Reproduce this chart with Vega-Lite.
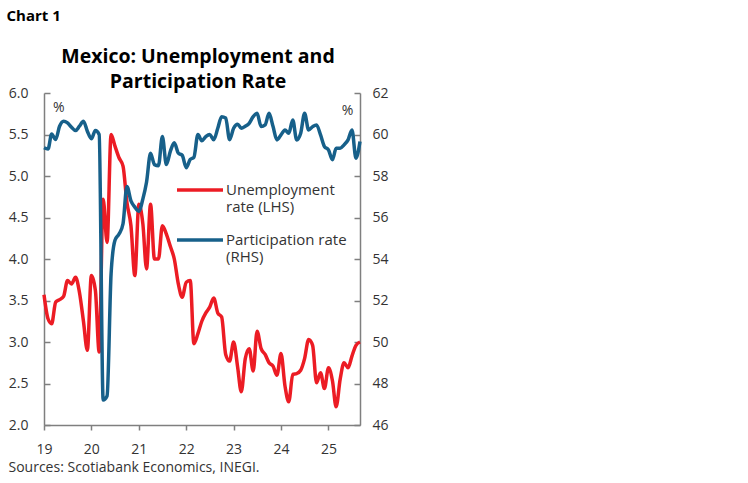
{
  "$schema": "https://vega.github.io/schema/vega-lite/v6.json",
  "width": 316,
  "height": 332,
  "autosize": {"type": "none"},
  "padding": {"left": 44, "top": 93, "right": 388, "bottom": 58},
  "background": "white",
  "config": {
    "view": {"stroke": null},
    "font": "Open Sans",
    "axis": {"grid": false, "domainColor": "#7f7f7f", "domainWidth": 1.5, "tickColor": "#7f7f7f", "tickWidth": 1.5, "labelColor": "#333333", "labelFont": "Open Sans", "labelFontSize": 14, "titleFont": "Open Sans"}
  },
  "title": {"text": ["Mexico: Unemployment and", "Participation Rate"], "anchor": "middle", "frame": "group", "fontSize": 19.5, "fontWeight": "bold", "font": "Open Sans", "color": "#000000", "lineHeight": 25, "offset": 6, "dx": -4, "dy": 90},
  "datasets": {
    "series": [
      {"d": "2019-01-01", "u": 3.57, "p": 59.36},
      {"d": "2019-02-01", "u": 3.28, "p": 59.30},
      {"d": "2019-03-01", "u": 3.22, "p": 60.03},
      {"d": "2019-04-01", "u": 3.48, "p": 59.76},
      {"d": "2019-05-01", "u": 3.51, "p": 60.40},
      {"d": "2019-06-01", "u": 3.55, "p": 60.64},
      {"d": "2019-07-01", "u": 3.74, "p": 60.56},
      {"d": "2019-08-01", "u": 3.70, "p": 60.35},
      {"d": "2019-09-01", "u": 3.78, "p": 60.19},
      {"d": "2019-10-01", "u": 3.60, "p": 60.40},
      {"d": "2019-11-01", "u": 3.25, "p": 60.64},
      {"d": "2019-12-01", "u": 2.90, "p": 60.16},
      {"d": "2020-01-01", "u": 3.80, "p": 59.80},
      {"d": "2020-02-01", "u": 3.62, "p": 60.19},
      {"d": "2020-03-01", "u": 2.88, "p": 60.00},
      {"d": "2020-04-01", "u": 4.72, "p": 47.20},
      {"d": "2020-05-01", "u": 4.20, "p": 47.40},
      {"d": "2020-06-01", "u": 5.50, "p": 53.30},
      {"d": "2020-07-01", "u": 5.36, "p": 54.90},
      {"d": "2020-08-01", "u": 5.22, "p": 55.20},
      {"d": "2020-09-01", "u": 5.12, "p": 55.70},
      {"d": "2020-10-01", "u": 4.68, "p": 57.50},
      {"d": "2020-11-01", "u": 4.40, "p": 56.80},
      {"d": "2020-12-01", "u": 3.80, "p": 56.50},
      {"d": "2021-01-01", "u": 4.66, "p": 56.30},
      {"d": "2021-02-01", "u": 4.42, "p": 56.90},
      {"d": "2021-03-01", "u": 3.88, "p": 57.70},
      {"d": "2021-04-01", "u": 4.66, "p": 59.10},
      {"d": "2021-05-01", "u": 4.00, "p": 58.55},
      {"d": "2021-06-01", "u": 4.00, "p": 58.50},
      {"d": "2021-07-01", "u": 4.40, "p": 59.90},
      {"d": "2021-08-01", "u": 4.30, "p": 58.55},
      {"d": "2021-09-01", "u": 4.15, "p": 59.20},
      {"d": "2021-10-01", "u": 4.00, "p": 59.60},
      {"d": "2021-11-01", "u": 3.70, "p": 59.10},
      {"d": "2021-12-01", "u": 3.54, "p": 59.00},
      {"d": "2022-01-01", "u": 3.72, "p": 58.40},
      {"d": "2022-02-01", "u": 3.74, "p": 58.80},
      {"d": "2022-03-01", "u": 2.98, "p": 58.90},
      {"d": "2022-04-01", "u": 3.10, "p": 60.00},
      {"d": "2022-05-01", "u": 3.25, "p": 59.70},
      {"d": "2022-06-01", "u": 3.35, "p": 59.90},
      {"d": "2022-07-01", "u": 3.42, "p": 60.00},
      {"d": "2022-08-01", "u": 3.53, "p": 59.75},
      {"d": "2022-09-01", "u": 3.35, "p": 60.30},
      {"d": "2022-10-01", "u": 3.30, "p": 60.86},
      {"d": "2022-11-01", "u": 2.85, "p": 60.80},
      {"d": "2022-12-01", "u": 2.77, "p": 59.75},
      {"d": "2023-01-01", "u": 3.00, "p": 60.30},
      {"d": "2023-02-01", "u": 2.70, "p": 60.50},
      {"d": "2023-03-01", "u": 2.40, "p": 60.30},
      {"d": "2023-04-01", "u": 2.80, "p": 60.40},
      {"d": "2023-05-01", "u": 2.92, "p": 60.54},
      {"d": "2023-06-01", "u": 2.65, "p": 60.86},
      {"d": "2023-07-01", "u": 3.13, "p": 61.02},
      {"d": "2023-08-01", "u": 2.92, "p": 60.38},
      {"d": "2023-09-01", "u": 2.85, "p": 60.46},
      {"d": "2023-10-01", "u": 2.75, "p": 61.02},
      {"d": "2023-11-01", "u": 2.71, "p": 60.38},
      {"d": "2023-12-01", "u": 2.60, "p": 59.74},
      {"d": "2024-01-01", "u": 2.86, "p": 59.98},
      {"d": "2024-02-01", "u": 2.47, "p": 60.22},
      {"d": "2024-03-01", "u": 2.28, "p": 60.06},
      {"d": "2024-04-01", "u": 2.61, "p": 60.70},
      {"d": "2024-05-01", "u": 2.62, "p": 59.74},
      {"d": "2024-06-01", "u": 2.66, "p": 60.06},
      {"d": "2024-07-01", "u": 2.80, "p": 61.02},
      {"d": "2024-08-01", "u": 3.03, "p": 60.22},
      {"d": "2024-09-01", "u": 2.96, "p": 60.38},
      {"d": "2024-10-01", "u": 2.51, "p": 60.46},
      {"d": "2024-11-01", "u": 2.63, "p": 59.98},
      {"d": "2024-12-01", "u": 2.44, "p": 59.42},
      {"d": "2025-01-01", "u": 2.69, "p": 59.26},
      {"d": "2025-02-01", "u": 2.53, "p": 58.78},
      {"d": "2025-03-01", "u": 2.22, "p": 59.34},
      {"d": "2025-04-01", "u": 2.55, "p": 59.34},
      {"d": "2025-05-01", "u": 2.75, "p": 59.50},
      {"d": "2025-06-01", "u": 2.69, "p": 59.74},
      {"d": "2025-07-01", "u": 2.83, "p": 60.22},
      {"d": "2025-08-01", "u": 2.96, "p": 58.86},
      {"d": "2025-09-01", "u": 3.00, "p": 59.66}
    ],
    "notes": [{"d": "2019-04-25", "u": 5.82, "t": "%"}]
  },
  "layer": [
    {
      "layer": [
        {
          "data": {"name": "series"},
          "mark": {"type": "line", "interpolate": "monotone", "strokeWidth": 3.5},
          "encoding": {
            "x": {
              "field": "d", "type": "temporal",
              "scale": {"type": "utc", "domain": [{"year": 2019, "month": 1, "date": 1, "utc": true}, {"year": 2025, "month": 9, "date": 1, "utc": true}]},
              "axis": {
                "values": [{"year": 2019, "month": 1, "date": 1, "utc": true}, {"year": 2020, "month": 1, "date": 1, "utc": true}, {"year": 2021, "month": 1, "date": 1, "utc": true}, {"year": 2022, "month": 1, "date": 1, "utc": true}, {"year": 2023, "month": 1, "date": 1, "utc": true}, {"year": 2024, "month": 1, "date": 1, "utc": true}, {"year": 2025, "month": 1, "date": 1, "utc": true}],
                "labelExpr": "utcFormat(datum.value, '%y')", "tickSize": 5, "labelPadding": 12, "labelFlush": false,
                "title": "Sources: Scotiabank Economics, INEGI.", "titleX": -36, "titleY": 42, "titleAlign": "left", "titleAnchor": "start", "titleBaseline": "middle", "titleFontSize": 14, "titleFontWeight": "normal", "titleColor": "#333333"
              }
            },
            "y": {
              "field": "u", "type": "quantitative",
              "scale": {"domain": [2, 6], "nice": false, "zero": false},
              "axis": {
                "values": [2, 2.5, 3, 3.5, 4, 4.5, 5, 5.5, 6], "format": ".1f", "tickSize": -6, "labelPadding": 22,
                "title": "Chart 1", "titleAngle": 0, "titleX": -38, "titleY": -78, "titleAlign": "left", "titleBaseline": "middle", "titleFontSize": 15, "titleFontWeight": "bold", "titleColor": "#000000"
              }
            },
            "color": {
              "datum": "Unemployment rate (LHS)", "type": "nominal",
              "scale": {"domain": ["Unemployment rate (LHS)", "Participation rate (RHS)"], "range": ["#EC1C24", "#17608A"]},
              "legend": {
                "orient": "none", "legendX": 131, "legendY": 72, "direction": "vertical", "title": null,
                "symbolType": "stroke", "symbolStrokeWidth": 3.5, "symbolSize": 2116,
                "labelExpr": "datum.label == 'Unemployment rate (LHS)' ? ['Unemployment', 'rate (LHS)'] : ['Participation rate', '(RHS)']",
                "labelFontSize": 15, "labelColor": "#333333", "labelFont": "Open Sans", "labelOffset": 1, "labelLimit": 300, "labelBaseline": "middle", "rowPadding": -14
              }
            }
          }
        },
        {
          "data": {"name": "notes"},
          "mark": {"type": "text", "fontSize": 14, "color": "#333333", "font": "Open Sans"},
          "encoding": {
            "x": {"field": "d", "type": "temporal"},
            "y": {"field": "u", "type": "quantitative"},
            "text": {"field": "t", "type": "nominal"}
          }
        }
      ]
    },
    {
      "data": {"name": "series"},
      "mark": {"type": "line", "interpolate": "monotone", "strokeWidth": 3.5},
      "encoding": {
        "x": {"field": "d", "type": "temporal"},
        "y": {
          "field": "p", "type": "quantitative",
          "scale": {"domain": [46, 62], "nice": false, "zero": false},
          "axis": {
            "orient": "right", "values": [46, 48, 50, 52, 54, 56, 58, 60, 62], "tickSize": -6, "labelPadding": 18,
            "title": "%", "titleAngle": 0, "titleX": -13, "titleY": 17, "titleAlign": "center", "titleBaseline": "middle", "titleFontSize": 14, "titleFontWeight": "normal", "titleColor": "#333333"
          }
        },
        "color": {"datum": "Participation rate (RHS)", "type": "nominal"}
      }
    }
  ],
  "resolve": {"scale": {"y": "independent"}}
}
